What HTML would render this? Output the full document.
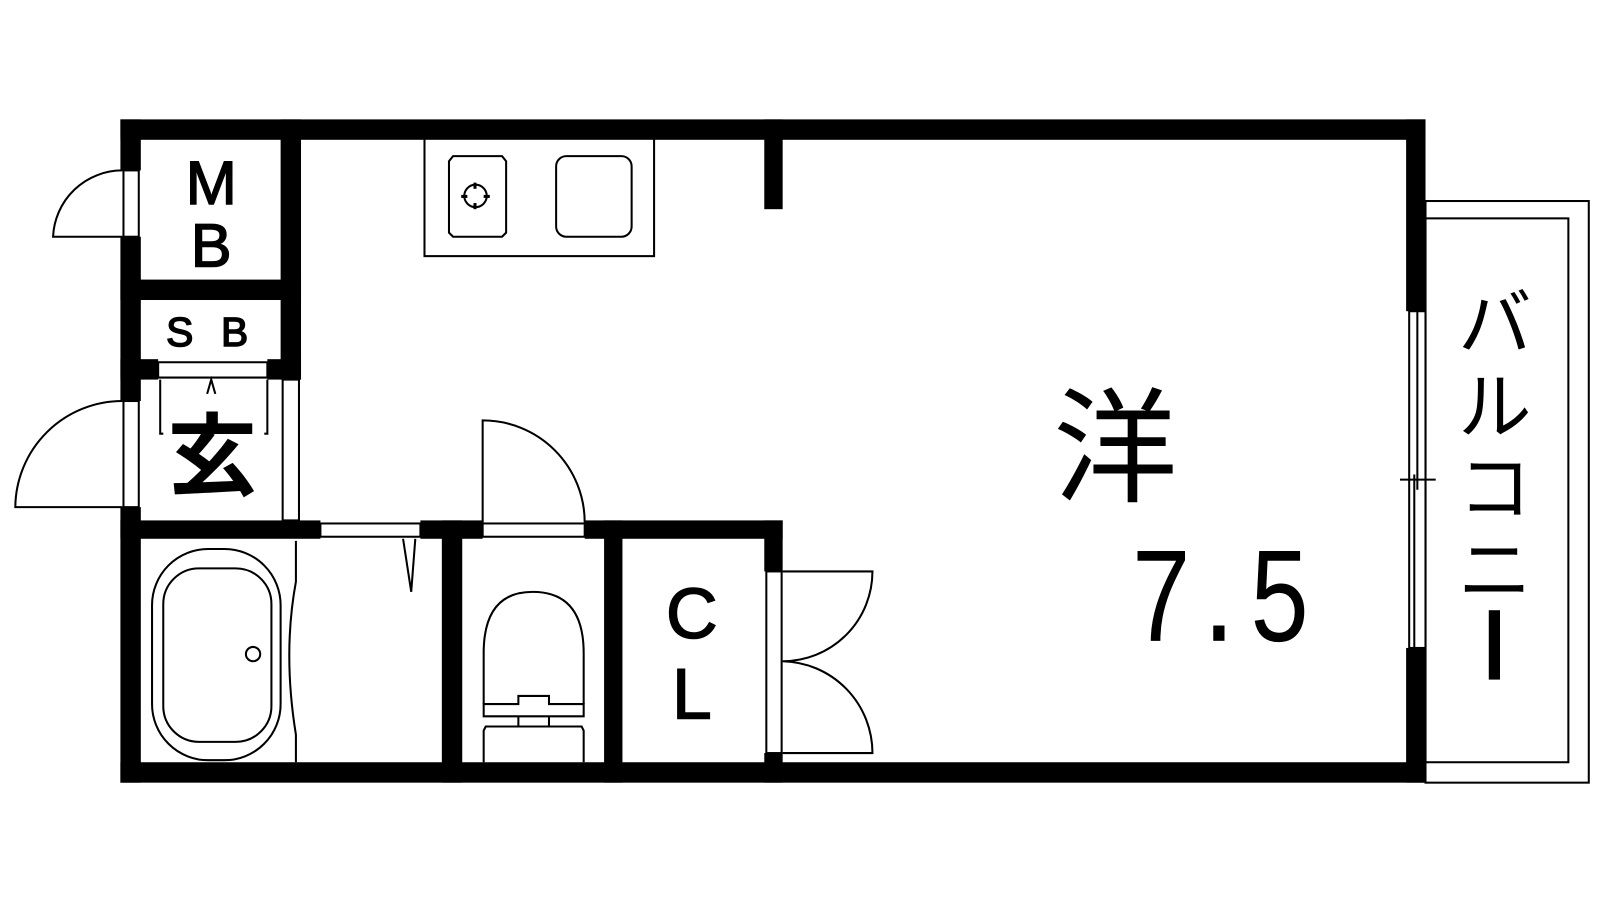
<!DOCTYPE html>
<html><head><meta charset="utf-8"><style>
html,body{margin:0;padding:0;background:#fff;}
svg{display:block;}
text{font-family:"Liberation Sans","Noto Sans CJK JP",sans-serif;fill:#000;}
</style></head><body>
<svg width="1600" height="900" viewBox="0 0 1568 882" xmlns="http://www.w3.org/2000/svg">
<rect width="1568" height="882" fill="#fff"/>
<g fill="none" stroke="#000" stroke-width="2">
 <rect x="1397" y="197" width="160" height="570"/>
 <rect x="1397" y="214" width="140" height="533"/>
 <rect x="416" y="126" width="225" height="125"/>
 <path d="M444 153h48l4 5v70l-4 4h-48l-4-4v-70z"/>
 <rect x="545" y="153" width="74" height="79" rx="10"/>
 <circle cx="466" cy="192" r="11"/>
 <path d="M120 167 A68 68 0 0 0 52 232 H120"/>
 <path d="M120 393 A105 105 0 0 0 15 497 H120"/>
 <path d="M473 512 V412 A100 100 0 0 1 573 512"/>
 <path d="M767 560 H855 A88 88 0 0 1 767 648 A90 90 0 0 1 855 738 H767"/>
 <rect x="149" y="538" width="126" height="207" rx="55"/>
 <rect x="160" y="557" width="106" height="170" rx="35"/>
 <circle cx="248" cy="641" r="7"/>
 <path d="M290 530 V570 Q277 640 290 720 V747"/>
 <path d="M395 528 L403 580 L407 528"/>
 <path d="M474 690 V640 Q474 580 522 580 Q572 580 572 640 V690"/>
 <path d="M474 690 H508 V682 H538 V690 H572 V702 H474 Z"/>
 <path d="M508 702 V712 M538 702 V712 M474 747 V716 l2-4 h94 l2 4 V747"/>
 <path d="M155 355 H262 V370 H155 Z"/>
 <path d="M157 372 V425 h3 M262 372 V425 h-3"/>
 <path d="M203 386 L207 372 L211 386"/>
 <rect x="121" y="167" width="15" height="65"/>
 <rect x="121" y="393" width="15" height="104"/>
 <rect x="277" y="372" width="16" height="138"/>
 <rect x="314" y="513" width="98" height="13"/>
 <rect x="473" y="513" width="100" height="13"/>
 <rect x="751" y="560" width="15" height="178"/>
 <rect x="1381" y="305" width="16" height="330"/>
 <path d="M1389 305 V480 M1386 465 V635 M1372 470 H1407"/>
</g>
<g fill="#000">
 <rect x="118" y="117" width="1279" height="20"/>
 <rect x="118" y="747" width="1279" height="20"/>
 <rect x="118" y="117" width="20" height="50"/>
 <rect x="118" y="232" width="20" height="161"/>
 <rect x="118" y="497" width="20" height="270"/>
 <rect x="1378" y="117" width="19" height="188"/>
 <rect x="1378" y="635" width="19" height="132"/>
 <rect x="275" y="117" width="20" height="255"/>
 <rect x="118" y="274" width="177" height="20"/>
 <rect x="118" y="352" width="37" height="20"/>
 <rect x="262" y="352" width="33" height="20"/>
 <rect x="749" y="117" width="18" height="88"/>
 <rect x="118" y="510" width="196" height="18"/>
 <rect x="412" y="510" width="61" height="18"/>
 <rect x="573" y="510" width="194" height="18"/>
 <rect x="433" y="510" width="20" height="257"/>
 <rect x="592" y="510" width="18" height="257"/>
 <rect x="749" y="510" width="18" height="50"/>
 <rect x="749" y="738" width="18" height="29"/>
 <rect x="464" y="179" width="3" height="6"/><rect x="464" y="199" width="3" height="6"/>
 <rect x="452" y="191" width="6" height="3"/><rect x="474" y="191" width="6" height="3"/>
</g>
<g stroke="#000" stroke-width="1.5">
<text x="207" y="200" font-size="60" text-anchor="middle">M</text>
<text x="207" y="261" font-size="60" text-anchor="middle">B</text>
<text x="207" y="339" font-size="40" text-anchor="middle" letter-spacing="8">S B</text>
<text x="678" y="625" font-size="70" text-anchor="middle">C</text>
<text x="678" y="704" font-size="70" text-anchor="middle">L</text>
</g>
<text x="208" y="478" font-size="88" text-anchor="middle" font-weight="bold">玄</text>
<text x="1093" y="482" font-size="122" text-anchor="middle">洋</text>
<text x="1138" y="628" font-size="128" text-anchor="middle" transform="translate(1138 0) scale(0.8 1) translate(-1138 0)">7</text>
<rect x="1189" y="613" width="11" height="15"/>
<text x="1254" y="628" font-size="128" text-anchor="middle" transform="translate(1254 0) scale(0.8 1) translate(-1254 0)">5</text>
<g font-size="72" text-anchor="middle">
 <text x="1465" y="342">バ</text>
 <text x="1465" y="424">ル</text>
 <text x="1465" y="503">コ</text>
 <text x="1465" y="584">ニ</text>
</g>
<rect x="1459" y="598" width="11" height="68" fill="#000"/>
</svg>
</body></html>
